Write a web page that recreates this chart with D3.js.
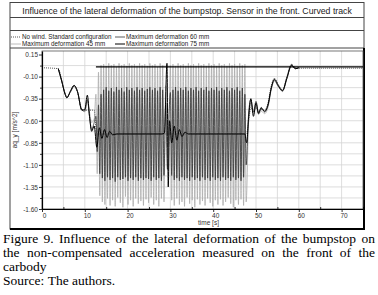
<!DOCTYPE html>
<html>
<head>
<meta charset="utf-8">
<script src="https://cdn.jsdelivr.net/npm/d3@7"></script>
<style>
	body { margin: 0; background: #fff; }
	svg { display: block; }
</style>
</head>
<body>
<div id="chart"></div>
<script>
const TITLE = 'Influence of the lateral deformation of the bumpstop. Sensor in the front. Curved track';
const SERIES_NAMES = [
	'No wind. Standard configuration',
	'Maximum deformation 60 mm',
	'Maximum deformation 45 mm',
	'Maximum deformation 75 mm'
];
const X_LABEL = 'time [s]';
const Y_LABEL = 'aq_y [m/s^2]';
const X_TICKS = [0, 10, 20, 30, 40, 50, 60, 70];
const Y_TICKS = [0.15, -0.10, -0.35, -0.60, -0.85, -1.10, -1.35, -1.60];

// sparse time base: no wind & 75 mm
const TIME_COARSE = [
	0, 3.8, 4.6, 5.4, 5.8, 6.7, 7.5, 8.3, 9.3, 10.0, 10.6, 11.1, 11.6, 12.2, 12.8,
	13.4, 14.0, 14.6, 15.2, 15.8, 16.5, 17.5, 28.0, 28.6,
	29.2, 29.5, 29.8, 30.3, 30.9, 31.5, 32.1, 32.7, 33.4, 34.2,
	47.4, 47.8, 48.3, 48.8, 49.4, 50.0, 50.6, 51.2, 52.0, 52.8, 53.6, 54.3, 55.2, 56.2, 57.2, 58.3, 59.2, 60.0, 62.0, 75.0
];
const NO_WIND = [
	0, -0.01, -0.14, -0.29, -0.33, -0.27, -0.21, -0.28, -0.47, -0.48, -0.48, -0.48, -0.48, -0.48, -0.75,
	-0.75, -0.75, -0.75, -0.75, -0.75, -0.75, -0.75, -0.75, -0.75,
	-0.75, -0.75, -0.75, -0.75, -0.75, -0.75, -0.75, -0.75, -0.75, -0.75,
	-0.75, -0.75, -0.60, -0.45, -0.50, -0.45, -0.50, -0.47, -0.48, -0.40, -0.20, -0.12, -0.19, -0.25, -0.10, 0.04, 0.0, -0.005, -0.005, -0.005
];
const DEF_75 = [
	null, -0.01, -0.15, -0.30, -0.34, -0.26, -0.20, -0.27, -0.48, -0.47, -0.31, -0.55, -0.72, -0.66, -0.90,
	-0.68, -0.80, -0.70, -0.79, -0.72, -0.76, -0.75, -0.75, -0.74,
	0.05, -1.35, -0.60, -0.85, -0.66, -0.82, -0.70, -0.78, -0.73, -0.75,
	-0.75, -0.85, -0.55, -0.35, -0.55, -0.40, -0.52, -0.45, -0.50, -0.42, -0.22, -0.13, -0.20, -0.26, -0.12, 0.03, -0.01, 0.0, null, null
];

// dense time base: 45 mm & 60 mm
const TIME_FINE = [
	3.8, 4.6, 5.4, 5.8, 6.7, 7.5, 8.3, 9.3, 10.0, 10.6, 11.1, 11.6, 12.2,
	12.6, 12.9, 13.2, 13.5, 13.8, 14.1, 14.4, 14.7, 15.0, 15.3,
	15.6, 15.9, 16.2, 16.5, 16.8, 17.1, 17.4, 17.7, 18.0, 18.3,
	18.6, 18.9, 19.2, 19.5, 19.8, 20.1, 20.4, 20.7, 21.0, 21.3,
	21.6, 21.9, 22.2, 22.5, 22.8, 23.1, 23.4, 23.7, 24.0, 24.3,
	24.6, 24.9, 25.2, 25.5, 25.8, 26.1, 26.4, 26.7, 27.0, 27.3,
	27.6, 27.9, 28.2, 28.5,
	28.9, 29.3, 29.7,
	30.0, 30.3, 30.6, 30.9, 31.2, 31.5, 31.8, 32.1, 32.4, 32.7,
	33.0, 33.3, 33.6, 33.9, 34.2, 34.5, 34.8, 35.1, 35.4, 35.7,
	36.0, 36.3, 36.6, 36.9, 37.2, 37.5, 37.8, 38.1, 38.4, 38.7,
	39.0, 39.3, 39.6, 39.9, 40.2, 40.5, 40.8, 41.1, 41.4, 41.7,
	42.0, 42.3, 42.6, 42.9, 43.2, 43.5, 43.8, 44.1, 44.4, 44.7,
	45.0, 45.3, 45.6, 45.9, 46.2, 46.5, 46.8, 47.1, 47.4, 47.7,
	48.3, 48.8, 49.4, 50.0, 50.6, 51.2, 52.0, 52.8, 53.6, 54.3, 55.2, 56.2, 57.2, 58.3, 59.2, 60.0
];
const DEF_45 = [
	-0.01, -0.14, -0.29, -0.33, -0.27, -0.21, -0.28, -0.47, -0.50, -0.38, -0.50, -0.62, -0.58,
	-0.30, -1.20, -0.05, -1.45, 0.03, -1.52, 0.04, -1.55, 0.02, -1.48,
	0.05, -1.56, 0.03, -1.50, 0.04, -1.57, 0.01, -1.47, 0.05, -1.53,
	0.03, -1.58, 0.04, -1.46, 0.02, -1.55, 0.05, -1.50, 0.03, -1.57,
	0.04, -1.48, 0.02, -1.54, 0.05, -1.51, 0.03, -1.56, 0.04, -1.49,
	0.02, -1.53, 0.05, -1.47, 0.03, -1.55, 0.04, -1.50, 0.01, -1.57,
	0.05, -1.48, 0.03, -1.52,
	-0.20, -0.90, -0.60,
	0.03, -1.50, 0.04, -1.56, 0.02, -1.48, 0.05, -1.55, 0.03, -1.52,
	0.04, -1.57, 0.02, -1.47, 0.05, -1.54, 0.03, -1.50, 0.04, -1.58,
	0.02, -1.49, 0.05, -1.55, 0.03, -1.51, 0.04, -1.56, 0.02, -1.48,
	0.05, -1.53, 0.03, -1.57, 0.04, -1.50, 0.02, -1.55, 0.05, -1.49,
	0.03, -1.56, 0.04, -1.52, 0.02, -1.47, 0.05, -1.54, 0.03, -1.58,
	0.04, -1.50, 0.02, -1.55, 0.05, -1.49, 0.03, -1.56, 0.04, -1.52,
	-0.58, -0.40, -0.52, -0.43, -0.53, -0.49, -0.52, -0.45, -0.24, -0.15, -0.21, -0.27, -0.13, 0.02, -0.01, 0.0
];
const DEF_60 = [
	-0.01, -0.15, -0.30, -0.34, -0.26, -0.20, -0.27, -0.48, -0.49, -0.36, -0.55, -0.70, -0.62,
	-0.55, -0.95, -0.42, -1.20, -0.30, -1.25, -0.25, -1.28, -0.22, -1.24,
	-0.26, -1.27, -0.23, -1.25, -0.27, -1.29, -0.22, -1.24, -0.25, -1.27,
	-0.23, -1.26, -0.27, -1.24, -0.22, -1.28, -0.25, -1.25, -0.23, -1.27,
	-0.26, -1.24, -0.22, -1.28, -0.25, -1.25, -0.23, -1.27, -0.26, -1.25,
	-0.24, -1.26, -0.22, -1.28, -0.25, -1.24, -0.23, -1.27, -0.26, -1.25,
	-0.22, -1.28, -0.25, -1.22,
	-0.40, -1.15, -0.50,
	-0.28, -1.22, -0.25, -1.27, -0.22, -1.25, -0.26, -1.28, -0.23, -1.24,
	-0.25, -1.27, -0.22, -1.25, -0.26, -1.28, -0.23, -1.24, -0.25, -1.27,
	-0.22, -1.25, -0.26, -1.28, -0.23, -1.24, -0.25, -1.27, -0.22, -1.25,
	-0.26, -1.28, -0.23, -1.24, -0.25, -1.27, -0.22, -1.25, -0.26, -1.28,
	-0.23, -1.24, -0.25, -1.27, -0.22, -1.25, -0.26, -1.28, -0.23, -1.24,
	-0.25, -1.27, -0.22, -1.25, -0.26, -1.28, -0.23, -1.24, -0.30, -1.10,
	-0.50, -0.36, -0.50, -0.38, -0.51, -0.46, -0.49, -0.43, -0.23, -0.14, -0.21, -0.26, -0.12, 0.03, -0.01, 0.0
];

// horizontal reference line across the plot
const REF_TIME = [12.6, 75];
const REF_VALUE = 0.01;

const CAPTION_LINES = [
	'Figure 9. Influence of the lateral deformation of the bumpstop on',
	'the non-compensated acceleration measured on the front of the',
	'carbody',
	'Source: The authors.'
];

const WIDTH = 378, HEIGHT = 295;
const FRAME = { left: 10, right: 364, top: 2.5, title: 17.5, blank: 30.5, legend: 48, bottom: 229 };
const PLOT = { left: 42, right: 363, top: 51, bottom: 209 };
const SANS = '"Liberation Sans", Arial, sans-serif';
const NARROW = '"Liberation Sans Narrow", "Arial Narrow", "Liberation Sans", Arial, sans-serif';
const SERIF = '"Liberation Serif", "Times New Roman", serif';

const svg = d3.select('#chart')
	.append('svg')
		.attr('width', WIDTH)
		.attr('height', HEIGHT);

// frame boxes
svg.append('rect')
	.attr('x', FRAME.left).attr('y', FRAME.top)
	.attr('width', FRAME.right - FRAME.left).attr('height', FRAME.bottom - FRAME.top)
	.attr('fill', 'none').attr('stroke', '#444').attr('stroke-width', 1);
[FRAME.title, FRAME.blank, FRAME.legend].forEach(yy => {
	svg.append('line')
		.attr('x1', FRAME.left).attr('x2', FRAME.right)
		.attr('y1', yy).attr('y2', yy)
		.attr('stroke', '#444');
});
svg.append('path')
	.attr('d', `M${FRAME.right},${FRAME.legend} V${FRAME.bottom} H${FRAME.left}`)
	.attr('fill', 'none').attr('stroke', '#000').attr('stroke-width', 2);

const title = svg.append('text')
	.attr('x', (FRAME.left + FRAME.right) / 2)
	.attr('y', 14)
	.attr('text-anchor', 'middle')
	.attr('font-family', NARROW)
	.attr('font-size', 10)
	.attr('fill', '#222')
	.text(TITLE);
// shrink the title until it fits the box width seen in the reference
const titleW = title.node().getComputedTextLength();
if (titleW > 330) title.attr('font-size', 10 * 330 / titleW);

// scales
const x = d3.scaleLinear().domain([0, 75]).range([PLOT.left, PLOT.right]);
const y = d3.scaleLinear().domain([-1.6, 0.19]).range([PLOT.bottom, PLOT.top]);

// grid
const grid = svg.append('g').attr('stroke', '#d4d4d4').attr('stroke-width', 0.8);
d3.range(5, 75, 5).forEach(t => {
	grid.append('line')
		.attr('x1', x(t)).attr('x2', x(t))
		.attr('y1', PLOT.top).attr('y2', PLOT.bottom);
});
d3.range(0, 14).map(i => -1.6 + i * 0.125).forEach(v => {
	grid.append('line')
		.attr('x1', PLOT.left).attr('x2', PLOT.right)
		.attr('y1', y(v)).attr('y2', y(v));
});

svg.append('rect')
	.attr('x', PLOT.left).attr('y', PLOT.top)
	.attr('width', PLOT.right - PLOT.left).attr('height', PLOT.bottom - PLOT.top)
	.attr('fill', 'none').attr('stroke', '#555').attr('stroke-width', 0.8);

// series
const plot = svg.append('g');
const line = d3.line()
	.defined(d => d[1] !== null)
	.x(d => x(d[0]))
	.y(d => y(d[1]))
	.curve(d3.curveMonotoneX);

const zip = (ts, vs) => ts.map((t, i) => [t, vs[i]]);

const SERIES = [
	{ data: zip(TIME_FINE, DEF_45), stroke: '#ababab', width: 0.8, dash: null },
	{ data: zip(TIME_FINE, DEF_60), stroke: '#333', width: 0.8, dash: null },
	{ data: zip(TIME_COARSE, NO_WIND), stroke: '#444', width: 0.9, dash: '1,1' },
	{ data: zip(TIME_COARSE, DEF_75), stroke: '#000', width: 1.0, dash: null }
];

plot.selectAll('path.series')
	.data(SERIES)
	.enter()
	.append('path')
		.attr('class', 'series')
		.attr('d', d => line(d.data))
		.attr('fill', 'none')
		.attr('stroke', d => d.stroke)
		.attr('stroke-width', d => d.width)
		.attr('stroke-dasharray', d => d.dash);

plot.append('path')
	.attr('d', d3.line().x(d => x(d)).y(() => y(REF_VALUE))(REF_TIME))
	.attr('stroke', '#000')
	.attr('stroke-width', 1.2);

// axes
const tickFmt = d => d.toFixed(2);
const yAxis = svg.append('g')
	.attr('transform', `translate(${PLOT.left},0)`)
	.call(d3.axisLeft(y).tickValues(Y_TICKS).tickFormat(tickFmt).tickSize(3).tickSizeOuter(0));
svg.append('g')
	.attr('transform', `translate(${PLOT.left},0)`)
	.call(d3.axisLeft(y).tickValues(Y_TICKS.slice(1).map(v => v + 0.125)).tickFormat('').tickSize(2).tickSizeOuter(0))
	.select('.domain').remove();

const xAxis = svg.append('g')
	.attr('transform', `translate(0,${PLOT.bottom})`)
	.call(d3.axisBottom(x).tickValues(X_TICKS).tickFormat(d3.format('d')).tickSize(3).tickSizeOuter(0));
svg.append('g')
	.attr('transform', `translate(0,${PLOT.bottom})`)
	.call(d3.axisBottom(x).tickValues(X_TICKS.map(v => v + 5)).tickFormat('').tickSize(-2).tickSizeOuter(0))
	.select('.domain').remove();

svg.selectAll('.tick line').attr('stroke', '#000').attr('stroke-width', 0.8);
svg.selectAll('.domain').attr('stroke', '#000').attr('stroke-width', 1.2);
svg.selectAll('.tick text')
	.attr('font-family', SANS)
	.attr('font-size', 6.5)
	.attr('fill', '#333');
yAxis.selectAll('.tick text').attr('x', -4).attr('dy', '0.35em');
xAxis.selectAll('.tick text').attr('y', 4).attr('dy', '0.71em').attr('dx', 2);

svg.append('text')
	.attr('x', (PLOT.left + PLOT.right) / 2 + 6)
	.attr('y', 225)
	.attr('text-anchor', 'middle')
	.attr('font-family', SANS)
	.attr('font-size', 6.5)
	.attr('fill', '#333')
	.text(X_LABEL);

svg.append('text')
	.attr('transform', `translate(17,${(PLOT.top + PLOT.bottom) / 2}) rotate(-90)`)
	.attr('text-anchor', 'middle')
	.attr('font-family', SANS)
	.attr('font-size', 6.5)
	.attr('fill', '#333')
	.text(Y_LABEL);

// legend
const LEGEND_STYLE = [SERIES[2], SERIES[1], SERIES[0], SERIES[3]];
const legend = svg.append('g');
SERIES_NAMES.forEach((name, i) => {
	const col = i % 2, row = Math.floor(i / 2);
	const lx = col === 0 ? 11 : 115;
	const ly = 37 + row * 7;
	const s = LEGEND_STYLE[i];
	legend.append('line')
		.attr('x1', lx).attr('x2', lx + 10)
		.attr('y1', ly).attr('y2', ly)
		.attr('stroke', s.stroke)
		.attr('stroke-width', s.width)
		.attr('stroke-dasharray', s.dash);
	legend.append('text')
		.attr('x', lx + 11)
		.attr('y', ly + 2.2)
		.attr('font-family', SANS)
		.attr('font-size', 6.3)
		.attr('fill', '#222')
		.text(name);
});

// caption, justified like the source page
function captionLine(str, yy, justify) {
	const words = str.split(' ');
	const g = svg.append('g');
	const nodes = words.map(w => g.append('text')
		.attr('y', yy)
		.attr('font-family', SERIF)
		.attr('font-size', 13.5)
		.attr('fill', '#000')
		.text(w));
	const widths = nodes.map(n => n.node().getComputedTextLength());
	const x0 = 3, x1 = 375;
	const total = d3.sum(widths);
	const gap = justify && words.length > 1 ? (x1 - x0 - total) / (words.length - 1) : 3.4;
	let cx = x0;
	nodes.forEach((n, i) => {
		n.attr('x', cx);
		cx += widths[i] + gap;
	});
}
captionLine(CAPTION_LINES[0], 243, true);
captionLine(CAPTION_LINES[1], 257, true);
captionLine(CAPTION_LINES[2], 271, false);
captionLine(CAPTION_LINES[3], 285, false);
</script>
</body>
</html>
